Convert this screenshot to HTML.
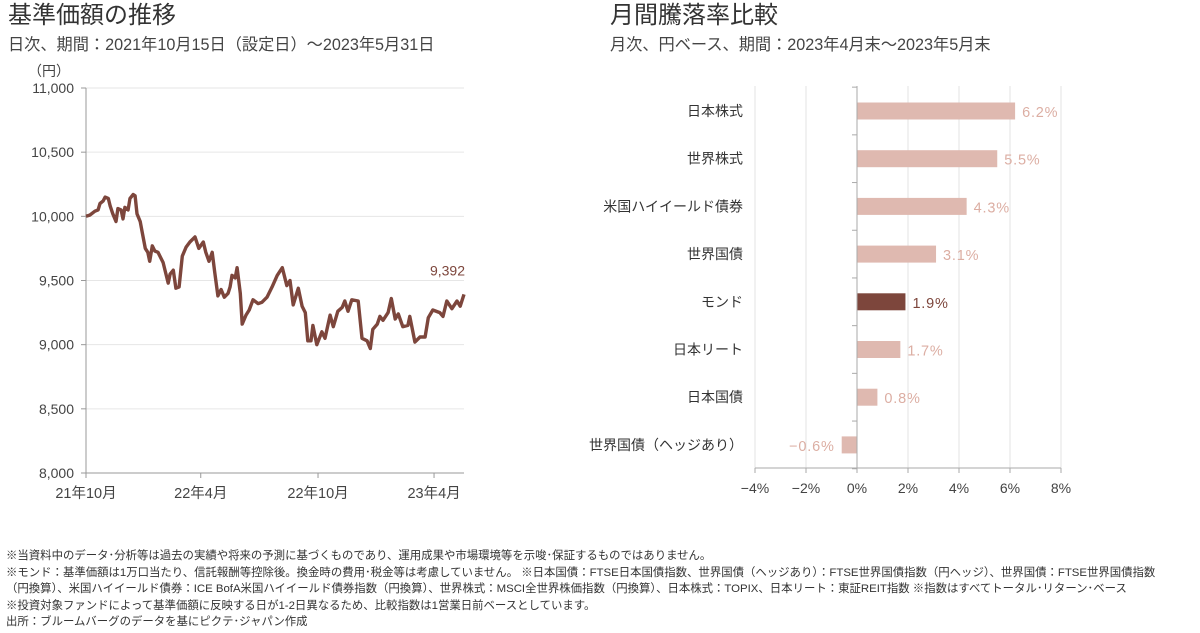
<!DOCTYPE html>
<html><head><meta charset="utf-8">
<style>
html,body{margin:0;padding:0;background:#fff;}
body{width:1200px;height:633px;overflow:hidden;position:relative;font-family:"Liberation Sans","Noto Sans CJK JP",sans-serif;color:#333;}
.t{position:absolute;white-space:nowrap;}
.title{font-size:24px;line-height:24px;color:#333;}
.sub{font-size:16.2px;line-height:16px;color:#444;}
.note{font-size:11.4px;line-height:16.5px;left:6px;color:#333;transform-origin:0 0;}
</style></head><body>
<div class="t title" style="left:8px;top:4px">基準価額の推移</div>
<div class="t sub" style="left:8px;top:37px">日次、期間：2021年10月15日（設定日）～2023年5月31日</div>
<div class="t title" style="left:610px;top:4px">月間騰落率比較</div>
<div class="t sub" style="left:610px;top:37px">月次、円ベース、期間：2023年4月末～2023年5月末</div>
<svg id="svg" width="1200" height="633" style="position:absolute;left:0;top:0"></svg>
<div class="t note" style="top:548px">※当資料中のデータ･分析等は過去の実績や将来の予測に基づくものであり、運用成果や市場環境等を示唆･保証するものではありません。<br>※モンド：基準価額は1万口当たり、信託報酬等控除後。換金時の費用･税金等は考慮していません。 ※日本国債：FTSE日本国債指数、世界国債（ヘッジあり）：FTSE世界国債指数（円ヘッジ）、世界国債：FTSE世界国債指数<br>（円換算）、米国ハイイールド債券：ICE BofA米国ハイイールド債券指数（円換算）、世界株式：MSCI全世界株価指数（円換算）、日本株式：TOPIX、日本リート：東証REIT指数 ※指数はすべてトータル･リターン･ベース<br>※投資対象ファンドによって基準価額に反映する日が1-2日異なるため、比較指数は1営業日前ベースとしています。<br>出所：ブルームバーグのデータを基にピクテ･ジャパン作成</div>
<script>
const navDays=[0,6,14,19,22,27,30,35,38,42,47,50,55,58,61,66,69,74,77,80,85,88,93,97,100,104,108,113,121,129,132,137,141,146,151,157,163,171,177,184,188,193,198,202,207,212,217,223,226,229,234,237,242,245,251,256,262,270,276,284,292,300,308,315,320,325,333,339,344,348,353,356,362,370,375,383,388,395,402,406,411,417,427,433,441,446,450,457,461,466,474,479,485,490,497,505,508,516,524,532,537,544,555,560,566,574,582,587,593];
const navValues=[10000,10010,10040,10050,10100,10120,10150,10140,10080,10020,9960,10060,10050,9980,10070,10050,10140,10170,10160,10020,9960,9880,9750,9720,9650,9770,9730,9720,9640,9480,9550,9580,9440,9450,9690,9760,9800,9840,9750,9800,9720,9650,9720,9560,9380,9430,9370,9400,9450,9540,9520,9600,9400,9160,9230,9270,9350,9320,9330,9370,9450,9540,9600,9460,9500,9310,9440,9300,9250,9030,9030,9150,9000,9100,9050,9230,9140,9260,9290,9340,9260,9350,9340,9050,9030,8970,9120,9160,9220,9190,9250,9360,9200,9240,9140,9150,9220,9020,9060,9060,9210,9270,9250,9220,9340,9280,9340,9300,9392];
const yTicks=[8000,8500,9000,9500,10000,10500,11000];
const xTickDays=[0,180,364,546];
const xTickLabels=["21年10月","22年4月","22年10月","23年4月"];
const lastLabel="9,392";
const barCats=["日本株式","世界株式","米国ハイイールド債券","世界国債","モンド","日本リート","日本国債","世界国債（ヘッジあり）"];
const barValues=[6.2,5.5,4.3,3.1,1.9,1.7,0.8,-0.6];
const barTicks=[-4,-2,0,2,4,6,8];

const NS="http://www.w3.org/2000/svg",svg=document.getElementById('svg');
function mk(t,a,p){const e=document.createElementNS(NS,t);for(const k in a)e.setAttribute(k,a[k]);(p||svg).appendChild(e);return e;}
const X0=86,X1=464,Y0=473,Y1=88;
const lx=d=>X0+(d-0)/(593-0)*(X1-X0);
const ly=v=>Y0-(v-8000)/(11000-8000)*(Y0-Y1);
const lg=mk('g',{});


yTicks.forEach(v=>{
  if(v>8000){const g=mk('line',{x1:X0,x2:X1,y1:ly(v),y2:ly(v),stroke:'#e6e6e6','stroke-width':1},lg);}
  mk('line',{x1:X0-5,x2:X0,y1:ly(v),y2:ly(v),stroke:'#999'},lg);
  const t=mk('text',{x:X0-12,y:ly(v)+5,'text-anchor':'end','font-size':14,fill:'#444'},lg);t.textContent=v.toLocaleString('en-US');
  
});
const yu=mk('text',{x:28,y:76,'font-size':14,fill:'#444'},lg);yu.textContent='（円）';

mk('line',{x1:X0,x2:X0,y1:Y1,y2:Y0,stroke:'#999'},lg);
mk('line',{x1:X0,x2:X1,y1:Y0,y2:Y0,stroke:'#999'},lg);
xTickDays.forEach((d,i)=>{
  mk('line',{x1:lx(d),x2:lx(d),y1:Y0,y2:Y0+5,stroke:'#999'},lg);
  const t=mk('text',{x:lx(d),y:Y0+25,'text-anchor':'middle','font-size':14.5,fill:'#444'},lg);t.textContent=xTickLabels[i];
  
});
const pts=navDays.map((d,i)=>lx(d).toFixed(1)+','+ly(navValues[i]).toFixed(1)).join(' ');
const pl=mk('polyline',{points:pts,fill:'none',stroke:'#7d463c','stroke-width':3.4,'stroke-linejoin':'round'},lg);

const ll=mk('text',{x:lx(navDays[navDays.length-1])+1,y:ly(navValues[navValues.length-1])-19,'text-anchor':'end','font-size':14,fill:'#7d463c'},lg);ll.textContent=lastLabel;

const B0=755,B1=1061,BT=86,BB=468,rowH=47.7,firstC=111,bh=17;
const bx=v=>B0+(v-(-4))/(8-(-4))*(B1-B0);
const bg=mk('g',{});


barTicks.forEach(v=>{
  if(v!==0){const g=mk('line',{x1:bx(v),x2:bx(v),y1:BT,y2:BB,stroke:'#e3e3e3'},bg);}
  mk('line',{x1:bx(v),x2:bx(v),y1:BB,y2:BB+5,stroke:'#aaa'},bg);
  const t=mk('text',{x:bx(v),y:BB+25,'text-anchor':'middle','font-size':14,fill:'#444'},bg);t.textContent=(v<0?'−':'')+Math.abs(v)+'%';
  
});
mk('line',{x1:B0,x2:B1,y1:BB,y2:BB,stroke:'#aaa'},bg);
for(let i=0;i<=barCats.length;i++){mk('line',{x1:bx(0)-5,x2:bx(0),y1:firstC-rowH/2+i*rowH,y2:firstC-rowH/2+i*rowH,stroke:'#aaa'},bg);}
barCats.forEach((c,i)=>{
  const cy=firstC+i*rowH,v=barValues[i],mon=c==='モンド';
  const col=mon?'#7d463c':'#dfb9b0';
  const r=mk('rect',{x:Math.min(bx(0),bx(v)),y:cy-bh/2,width:Math.abs(bx(v)-bx(0)),height:bh,fill:col},bg);
  
  const t=mk('text',{x:743,y:cy+5,'text-anchor':'end','font-size':14,fill:'#333'},bg);t.textContent=c;
  
  const vt=mk('text',{x:v>=0?bx(v)+7:bx(v)-7,y:cy+6,'text-anchor':v>=0?'start':'end','font-size':14.5,fill:mon?'#7d463c':'#dcaea3','letter-spacing':'0.8'},bg);
  vt.textContent=(v<0?'−':'')+Math.abs(v).toFixed(1)+'%';
  
});
mk('line',{x1:bx(0),x2:bx(0),y1:BT,y2:BB,stroke:'#aaa'},bg);
</script>
</body></html>
